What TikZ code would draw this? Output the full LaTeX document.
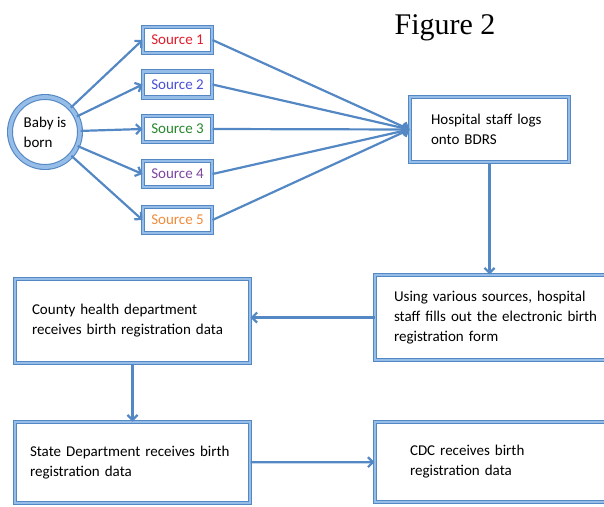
\documentclass[tikz,border=0pt]{standalone}
\usepackage{fontspec}
\setmainfont{Carlito}
\newfontfamily\titlefont{Liberation Serif}
\usetikzlibrary{arrows.meta}
\definecolor{lineblue}{RGB}{84,136,197}
\definecolor{rimblue}{RGB}{150,188,232}
\definecolor{srcred}{RGB}{226,30,45}
\definecolor{srcblue}{RGB}{75,80,215}
\definecolor{srcgreen}{RGB}{40,135,45}
\definecolor{srcpurple}{RGB}{125,70,160}
\definecolor{srcorange}{RGB}{240,140,60}
\begin{document}
\begin{tikzpicture}[x=1pt, y=-1pt,
    every node/.style={font=\fontsize{15}{20}\selectfont},
    link/.style={lineblue, line width=2.2pt, -{Straight Barb[length=5pt,width=10pt]}},
    frame/.style={rectangle, draw=lineblue, line width=1pt, double=rimblue, double distance=2.2pt, fill=white},
    srcbox/.style={frame, minimum width=69, minimum height=26, inner sep=0pt},
    stepbox/.style={frame, align=left, inner ysep=0pt}]
    \clip (0,0) rectangle (604,506);
    \node[font=\titlefont\fontsize{30}{30}\selectfont, anchor=base] (title) at (445,34) {Figure 2};
    % start and the hospital
    \node[circle, draw=lineblue, line width=1.1pt, double=rimblue, double distance=3.8pt, fill=white, minimum size=70, inner sep=0pt, align=left] (baby) at (45,132) {Baby is\\born};
    \node[stepbox, minimum width=159, minimum height=65, inner xsep=21pt, text width=117] (hosp) at (489.5,129.5) {Hospital staff logs\\onto BDRS};
    \foreach \i/\y/\c in {1/40/srcred, 2/84.5/srcblue, 3/129/srcgreen, 4/174/srcpurple, 5/220/srcorange} {
        \node[srcbox, text=\c] (s\i) at (177.5,\y) {Source \i};
        \draw[link] (baby) -- (s\i.west);
        \draw[link] (s\i.east) -- (hosp.west);
    }
    % data flow
    \node[stepbox, minimum width=250, minimum height=85, inner xsep=19pt, text width=212] (form) at (500,317.5) {Using various sources, hospital\\staff fills out the electronic birth\\registration form};
    \node[stepbox, minimum width=235, minimum height=84, inner xsep=17pt, text width=201] (county) at (132.5,321) {County health department\\receives birth registration data};
    \node[stepbox, minimum width=235, minimum height=81, inner xsep=15pt, text width=205] (state) at (132.5,462.5) {State Department receives birth\\registration data};
    \node[stepbox, minimum width=250, minimum height=80, inner xsep=35pt, text width=180] (cdc) at (500,462) {CDC receives birth\\registration data};
    \draw[link] (hosp.south) -- (hosp.south |- form.north);
    \draw[link] (form.west) -- (form.west -| county.east);
    \draw[link] (county) -- (state);
    \draw[link] (state) -- (cdc);
\end{tikzpicture}
\end{document}
